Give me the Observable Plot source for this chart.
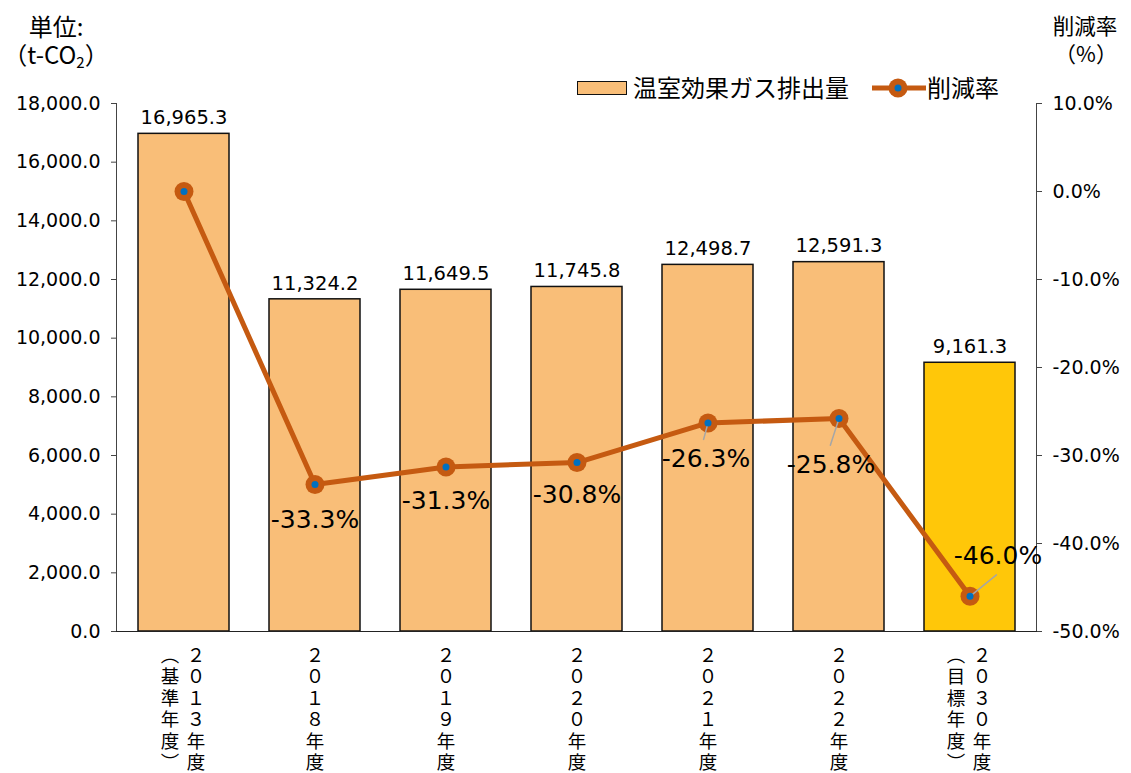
<!DOCTYPE html>
<html><head><meta charset="utf-8">
<script src="https://cdn.jsdelivr.net/npm/d3@7"></script>
<script src="https://cdn.jsdelivr.net/npm/@observablehq/plot@0.6"></script>
<style>
body{margin:0;background:#fff;font-family:"Noto Sans CJK JP","Noto Sans",sans-serif;}
#wrap{position:relative;width:1131px;height:773px;}
#wrap > svg{position:absolute;left:0;top:0;}
.t{position:absolute;color:#000;white-space:nowrap;line-height:1;}
</style></head>
<body><div id="wrap"></div>
<script>
// ---- data ----
const years = ["2013", "2018", "2019", "2020", "2021", "2022", "2030"];
const notes = ["基準年度", "", "", "", "", "", "目標年度"];
const emissions = [16965.3, 11324.2, 11649.5, 11745.8, 12498.7, 12591.3, 9161.3];
const rates = [0.0, -33.3, -31.3, -30.8, -26.3, -25.8, -46.0];
const leftTicks = [0, 2000, 4000, 6000, 8000, 10000, 12000, 14000, 16000, 18000];
const rightTicks = [10, 0, -10, -20, -30, -40, -50];
const seriesNames = ["温室効果ガス排出量", "削減率"];

// ---- layout (label offsets in px) ----
const rateLabelOffsets = [null, [0, 35], [0, 34], [0, 32], [-2, 36], [-8, 46], [28, -40]];
const leaders = [null, null, null, null, [195, 17], [198, 28], [51, 34]]; // [rotate, length]

const Y_MAX = 18000;
const toY = p => (p + 50) / 60 * Y_MAX;
const fromY = v => v / Y_MAX * 60 - 50;
const fw = s => s.replace(/[0-9]/g, c => String.fromCharCode(c.charCodeAt(0) + 0xFEE0));

const data = years.map((y, i) => ({
  year: y, note: notes[i], emission: emissions[i], rate: rates[i],
  target: i === years.length - 1,
  off: rateLabelOffsets[i], leader: leaders[i]
}));

const FONT = '"Noto Sans CJK JP","Noto Sans",sans-serif';
const NUMFONT = '"DejaVu Sans",sans-serif';
const LINE = "#C55A11", BLUE = "#0070C0";

const plot = Plot.plot({
  width: 1131, height: 773,
  marginLeft: 116, marginRight: 95, marginTop: 103, marginBottom: 142,
  style: {fontFamily: FONT, color: "#000", background: "transparent"},
  x: {type: "band", domain: years, paddingInner: 0.307, paddingOuter: 0.154, axis: null},
  y: {domain: [0, Y_MAX], axis: null},
  length: {type: "identity"},
  marks: [
    Plot.barY(data, {x: "year", y: "emission", fill: d => d.target ? "#FFC709" : "#F9BE78", stroke: "#111", strokeWidth: 1.5}),
    Plot.frame({anchor: "left", stroke: "#444"}),
    Plot.frame({anchor: "right", stroke: "#444"}),
    Plot.frame({anchor: "bottom", stroke: "#222"}),
    Plot.axisY({anchor: "left", ticks: leftTicks, tickSize: 5, tickPadding: 11, fontSize: 19, fontFamily: NUMFONT, stroke: "#444",
      tickFormat: d3.format(",.1f"), label: null}),
    Plot.axisY({anchor: "right", ticks: rightTicks.map(toY), tickSize: 5, tickPadding: 11, fontSize: 19, fontFamily: NUMFONT, stroke: "#444",
      tickFormat: v => (Math.round(fromY(v) * 10) / 10).toFixed(1) + "%", label: null}),
    Plot.text(data, {x: "year", y: "emission", text: d => d3.format(",.1f")(d.emission), dy: -16, fontSize: 19.5, fontFamily: NUMFONT, fill: "#000"}),
    Plot.lineY(data, {x: "year", y: d => toY(d.rate), stroke: LINE, strokeWidth: 5, strokeLinejoin: "round"}),
    Plot.dot(data, {x: "year", y: d => toY(d.rate), r: 9.5, fill: LINE, stroke: "none"}),
    Plot.vector(data.filter(d => d.leader), {x: "year", y: d => toY(d.rate), rotate: d => d.leader[0], length: d => d.leader[1],
      anchor: "start", stroke: "#A6A6A6", strokeWidth: 1.5,
      shape: {draw(ctx, l) { ctx.moveTo(0, 0); ctx.lineTo(0, -l); }}}),
    Plot.dot(data, {x: "year", y: d => toY(d.rate), r: 3.5, fill: BLUE, stroke: "none"}),
    ...data.filter(d => d.off).map(d => Plot.text([d], {x: "year", y: t => toY(t.rate), text: t => t.rate.toFixed(1) + "%",
      dx: d.off[0], dy: d.off[1], fontSize: 25, fontFamily: NUMFONT, fill: "#000"})),
    // vertical category labels: one character per line
    ...data.map(d => Plot.text([d], {x: "year", y: 0, text: t => [...fw(t.year) + "年度"].join("\n"),
      lineAnchor: "top", dy: 15, dx: d.note ? 12 : 0, fontSize: 18.5, lineHeight: 1.16, fill: "#000"})),
    ...data.filter(d => d.note).map(d => Plot.text([d], {x: "year", y: 0, text: t => [..."︵" + t.note + "︶"].join("\n"),
      lineAnchor: "top", dy: 15, dx: -14, fontSize: 18.5, lineHeight: 1.16, fill: "#000"}))
  ]
});
const wrap = document.getElementById("wrap");
wrap.appendChild(plot);

function addText(txt, left, top, size, align) {
  const el = document.createElement("div");
  el.className = "t";
  el.innerHTML = txt;
  el.style.fontSize = size + "px";
  el.style.top = top + "px";
  if (align === "center") { el.style.left = (left - 100) + "px"; el.style.width = "200px"; el.style.textAlign = "center"; }
  else el.style.left = left + "px";
  wrap.appendChild(el);
  return el;
}
// titles
addText("単位:", 56, 14, 24, "center");
addText("（t-CO<sub style='font-size:15px;vertical-align:-4px'>2</sub>）", 56, 42, 24, "center");
addText("削減率", 1085, 14, 21.5, "center");
addText("（%）", 1086, 42, 21.5, "center");

// legend
const sw = document.createElement("div");
Object.assign(sw.style, {position: "absolute", left: "577px", top: "81px", width: "48px", height: "12px",
  background: "#F9BE78", border: "1.5px solid #111"});
wrap.appendChild(sw);
addText(seriesNames[0], 633, 75, 24);
const ns = "http://www.w3.org/2000/svg";
const ls = document.createElementNS(ns, "svg");
ls.setAttribute("width", 60); ls.setAttribute("height", 24);
Object.assign(ls.style, {position: "absolute", left: "870px", top: "76px"});
ls.innerHTML = `<line x1="2" x2="56" y1="12" y2="12" stroke="${LINE}" stroke-width="5"/>
<circle cx="28" cy="12" r="9.5" fill="${LINE}"/><circle cx="28" cy="12" r="3.5" fill="${BLUE}"/>`;
wrap.appendChild(ls);
addText(seriesNames[1], 927, 75, 24);
</script></body></html>
